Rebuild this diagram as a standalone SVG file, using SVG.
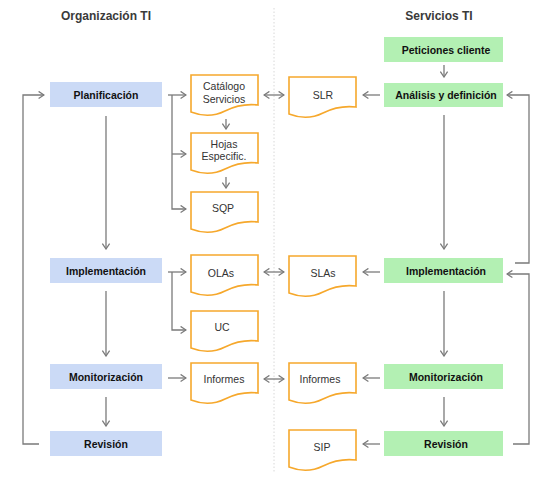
<svg xmlns="http://www.w3.org/2000/svg" width="546" height="480" viewBox="0 0 546 480">
<style>
.title{font-family:"Liberation Sans",Arial,sans-serif;font-size:12px;font-weight:bold;fill:#3a3a3a}
.bl{fill:#cbdaf6}
.gr{fill:#b3f0b3}
.bt{font-family:"Liberation Sans",Arial,sans-serif;font-size:10.5px;font-weight:bold;fill:#111;text-anchor:middle}
.dt{font-family:"Liberation Sans",Arial,sans-serif;font-size:10.5px;fill:#333;text-anchor:middle}
.doc{fill:#fff;stroke:#f6a82c;stroke-width:1.6}
.c{fill:none;stroke:#7a7a7a;stroke-width:1.3}
</style>
<defs>
<marker id="ah" viewBox="0 0 10 10" refX="9" refY="5" markerWidth="9" markerHeight="9" markerUnits="userSpaceOnUse" orient="auto-start-reverse">
<path d="M3,1 L9,5 L3,9" fill="none" stroke="#7a7a7a" stroke-width="1.4"/>
</marker>
<path id="docshape" d="M0,0 H67 V30 Q50,28 34,36 T0,37 Z"/>
</defs>
<rect width="546" height="480" fill="#fff"/>
<line x1="274" y1="8" x2="274" y2="472" stroke="#d8d8d8" stroke-width="1" stroke-dasharray="1.5,2"/>
<text class="title" x="106" y="20" text-anchor="middle">Organización TI</text>
<text class="title" x="439" y="20" text-anchor="middle">Servicios TI</text>

<g id="connectors" class="c" marker-end="url(#ah)">
<path d="M39,444 H23 V95 H44"/>
<path d="M106,116 V249"/>
<path d="M106,291 V356"/>
<path d="M106,397 V426"/>
<path d="M168,95 H186"/>
<path d="M172,95 V209 H186"/>
<path d="M172,154 H186"/>
<path d="M226,119 V129"/>
<path d="M226,177 V188"/>
<path d="M168,272 H186"/>
<path d="M172,272 V330 H186"/>
<path d="M168,378 H186"/>
<path d="M264,95 H284" marker-start="url(#ah)"/>
<path d="M264,272 H284" marker-start="url(#ah)"/>
<path d="M264,379 H284" marker-start="url(#ah)"/>
<path d="M444,65 V77"/>
<path d="M380,95 H363"/>
<path d="M444,115 V249"/>
<path d="M380,272 H363"/>
<path d="M444,291 V356"/>
<path d="M380,378 H363"/>
<path d="M444,397 V426"/>
<path d="M380,444 H363"/>
<path d="M515,263 H529 V95 H507"/>
<path d="M513,444 H529 V274 H507"/>
</g>

<g id="planificacion"><rect class="bl" x="50" y="82" width="112" height="25"/><text class="bt" x="106" y="98.5">Planificación</text></g>
<g id="implementacion-org"><rect class="bl" x="50" y="258" width="112" height="25"/><text class="bt" x="106" y="274.5">Implementación</text></g>
<g id="monitorizacion-org"><rect class="bl" x="50" y="364" width="112" height="25"/><text class="bt" x="106" y="380.5">Monitorización</text></g>
<g id="revision-org"><rect class="bl" x="50" y="431" width="112" height="25"/><text class="bt" x="106" y="447.5">Revisión</text></g>

<g id="peticiones"><rect class="gr" x="384" y="37" width="119" height="25"/><text class="bt" x="446" y="53.5">Peticiones cliente</text></g>
<g id="analisis"><rect class="gr" x="384" y="83" width="119" height="24"/><text class="bt" x="446" y="98.5">Análisis y definición</text></g>
<g id="implementacion-srv"><rect class="gr" x="384" y="258" width="119" height="25"/><text class="bt" x="446" y="274.5">Implementación</text></g>
<g id="monitorizacion-srv"><rect class="gr" x="384" y="364" width="119" height="25"/><text class="bt" x="446" y="380.5">Monitorización</text></g>
<g id="revision-srv"><rect class="gr" x="384" y="431" width="119" height="25"/><text class="bt" x="446" y="447.5">Revisión</text></g>

<g id="catalogo"><use href="#docshape" class="doc" x="191" y="75"/><text class="dt" x="224" y="90">Catálogo</text><text class="dt" x="224" y="103">Servicios</text></g>
<g id="hojas"><use href="#docshape" class="doc" x="191" y="133"/><text class="dt" x="224" y="148">Hojas</text><text class="dt" x="224" y="160">Especific.</text></g>
<g id="sqp"><use href="#docshape" class="doc" x="191" y="192"/><text class="dt" x="223" y="212">SQP</text></g>
<g id="olas"><use href="#docshape" class="doc" x="191" y="255"/><text class="dt" x="221" y="277">OLAs</text></g>
<g id="uc"><use href="#docshape" class="doc" x="191" y="311"/><text class="dt" x="222" y="331">UC</text></g>
<g id="informes-org"><use href="#docshape" class="doc" x="191" y="363"/><text class="dt" x="224" y="383">Informes</text></g>

<g id="slr"><use href="#docshape" class="doc" x="289" y="77"/><text class="dt" x="323" y="99">SLR</text></g>
<g id="slas"><use href="#docshape" class="doc" x="289" y="256"/><text class="dt" x="323" y="277">SLAs</text></g>
<g id="informes-srv"><use href="#docshape" class="doc" x="289" y="363"/><text class="dt" x="320" y="383">Informes</text></g>
<g id="sip"><use href="#docshape" class="doc" x="289" y="430"/><text class="dt" x="322" y="451">SIP</text></g>
</svg>
